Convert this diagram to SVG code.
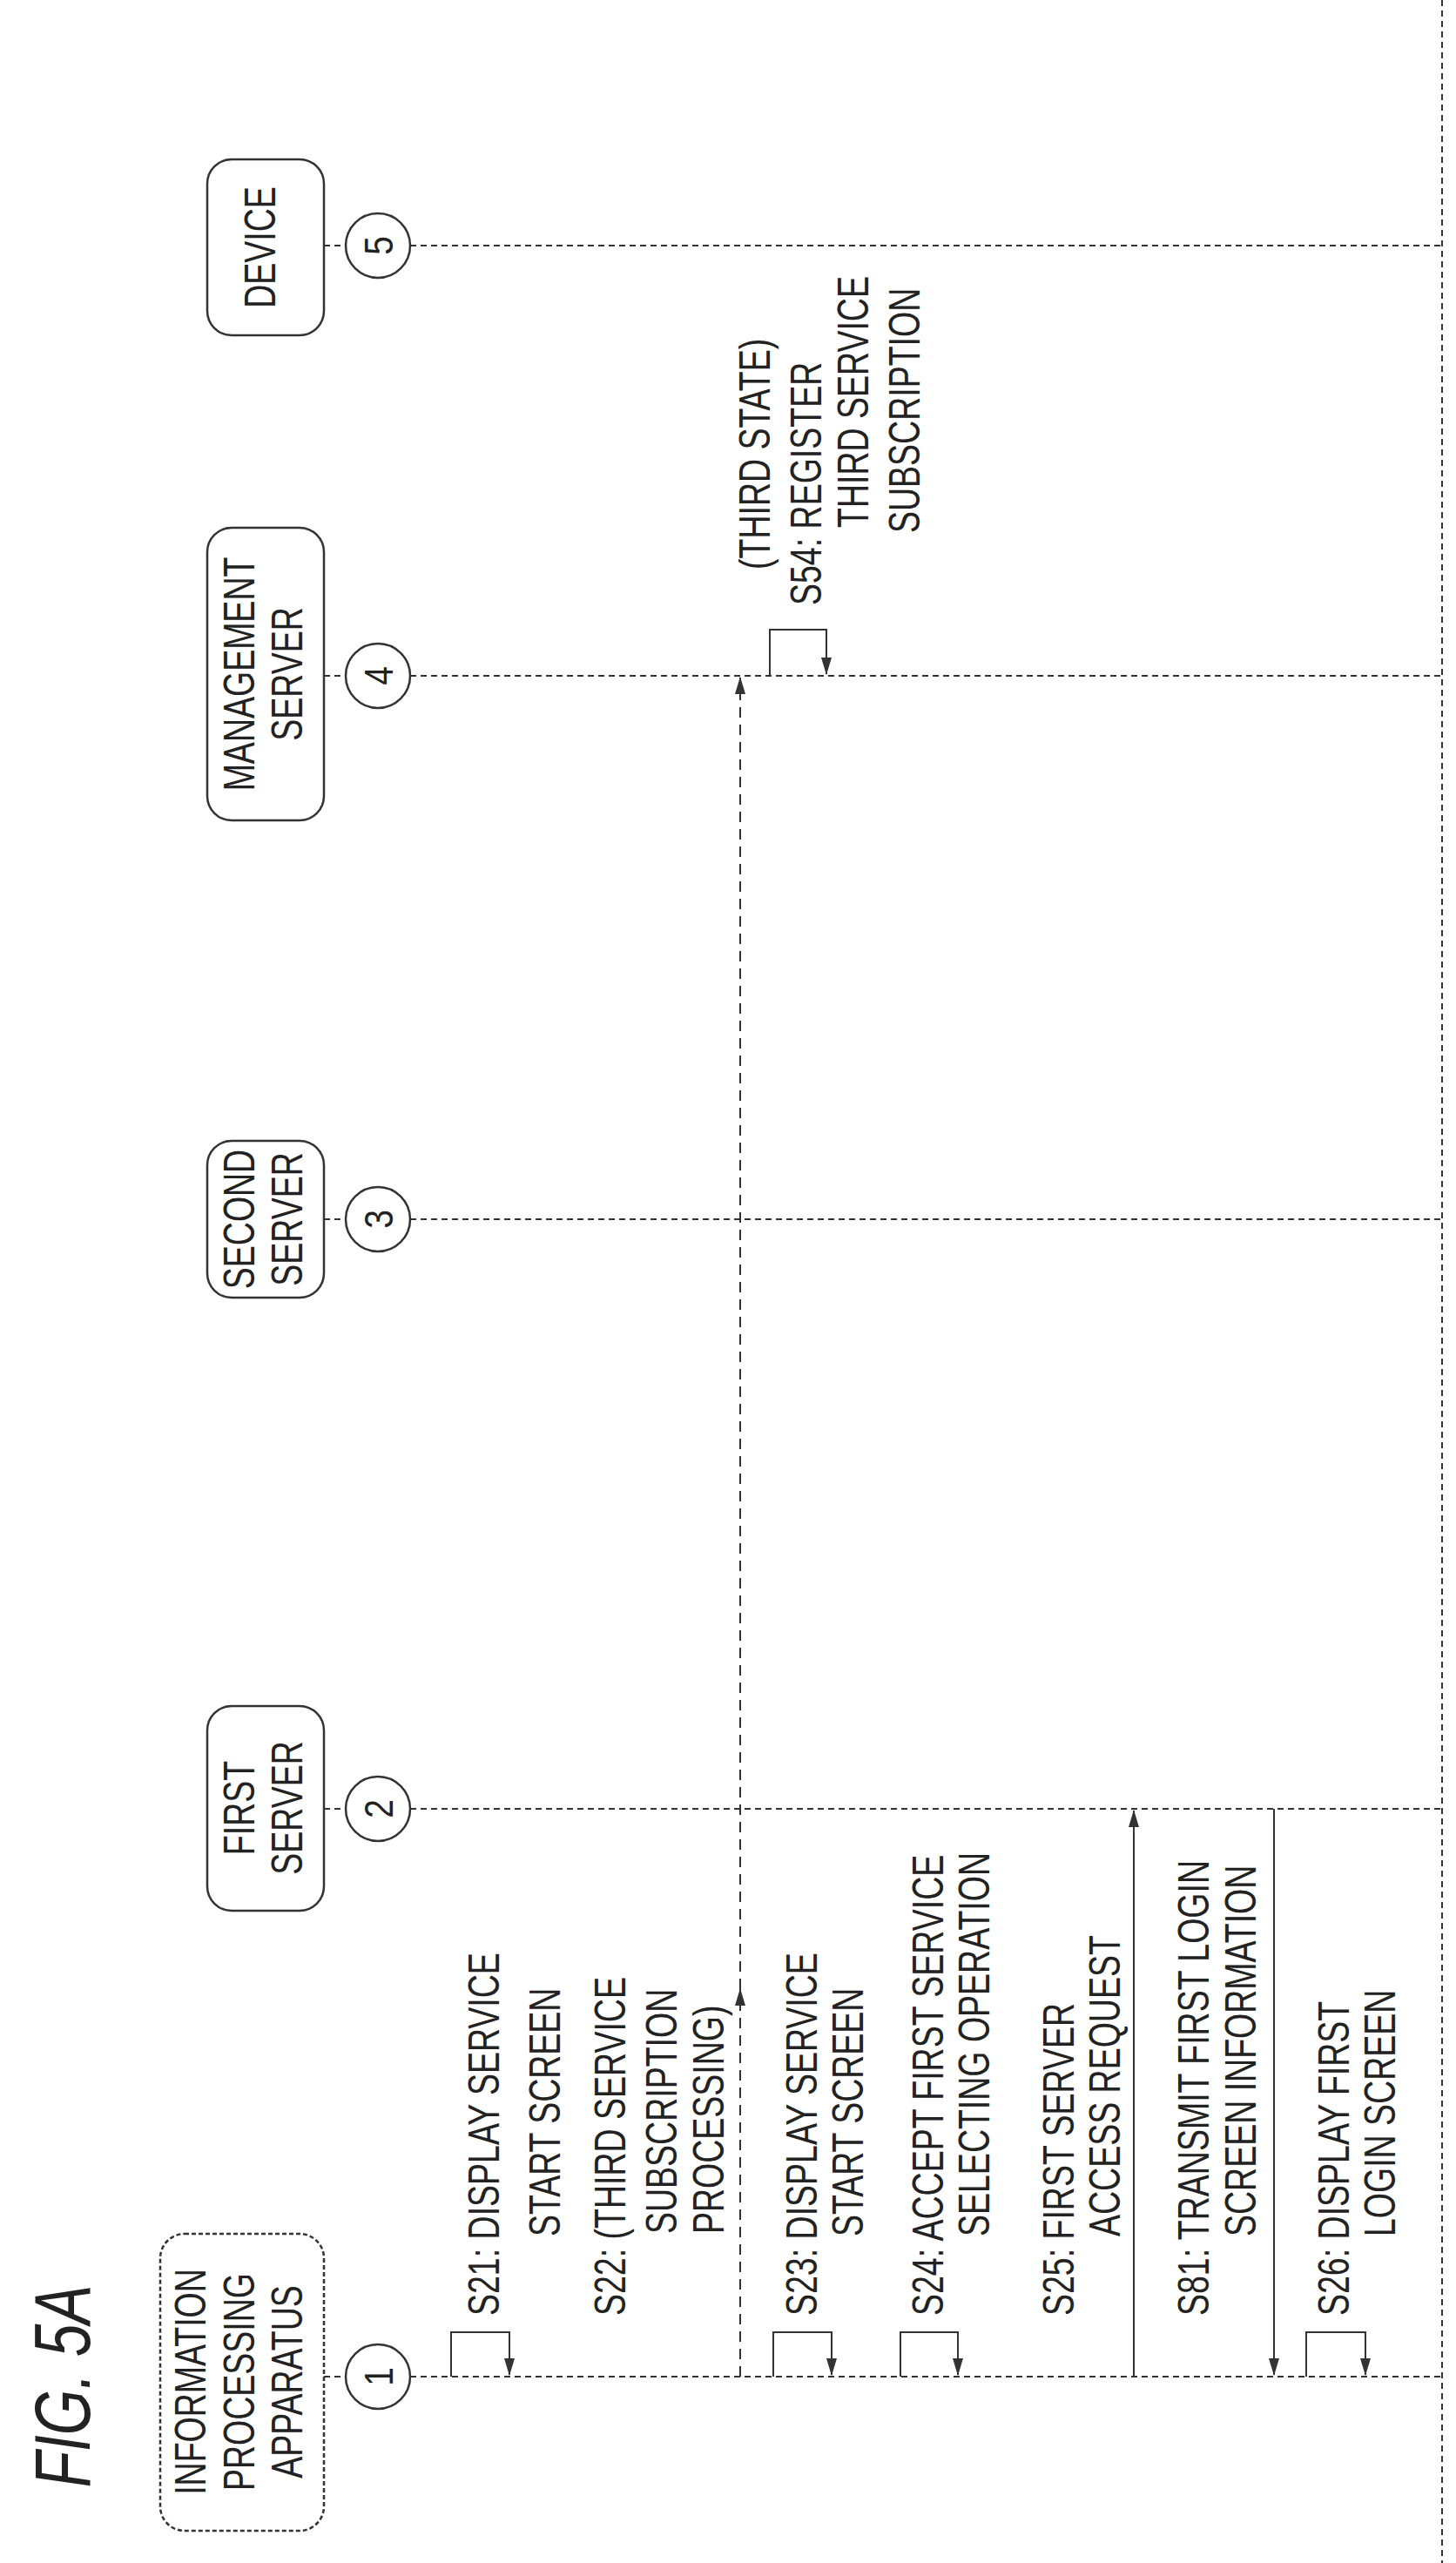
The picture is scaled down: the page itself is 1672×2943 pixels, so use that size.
<svg xmlns="http://www.w3.org/2000/svg" width="1672" height="2943" viewBox="0 0 1672 2943">
<style>
text{font-family:"Liberation Sans",Arial,sans-serif;font-size:50px;fill:#222}
.box{fill:none;stroke:#333;stroke-width:2.5}
.dbox{fill:none;stroke:#333;stroke-width:2.5;stroke-dasharray:5 3}
.life{fill:none;stroke:#333;stroke-width:2;stroke-dasharray:7 5}
.msg{fill:none;stroke:#333;stroke-width:2}
.dmsg{fill:none;stroke:#333;stroke-width:2;stroke-dasharray:12 8}
.num{font-size:46px}
.title{font-size:90px;font-style:italic}
</style>
<defs>
<marker id="ah" markerWidth="20" markerHeight="14" refX="19" refY="7" orient="auto" markerUnits="userSpaceOnUse" viewBox="0 0 20 14">
<path d="M0,1 L20,7 L0,13 Z" fill="#333"/>
</marker>
</defs>
<text class="title" transform="translate(103,2740) rotate(-90) scale(0.75,1)" text-anchor="middle">FIG. 5A</text>
<g id="connectors">
<line class="life" x1="1656" y1="0" x2="1656" y2="2943"/>
<line class="life" x1="372" y1="282" x2="397" y2="282"/><line class="life" x1="471" y1="282" x2="1656" y2="282"/>
<line class="life" x1="372" y1="776" x2="397" y2="776"/><line class="life" x1="471" y1="776" x2="1656" y2="776"/>
<line class="life" x1="372" y1="1400" x2="397" y2="1400"/><line class="life" x1="471" y1="1400" x2="1656" y2="1400"/>
<line class="life" x1="372" y1="2077" x2="397" y2="2077"/><line class="life" x1="471" y1="2077" x2="1656" y2="2077"/>
<line class="life" x1="372" y1="2729" x2="397" y2="2729"/><line class="life" x1="471" y1="2729" x2="1656" y2="2729"/>
<polyline class="msg" points="518,2729 518,2678 585,2678 585,2727" marker-end="url(#ah)"/>
<line class="dmsg" x1="850" y1="2729" x2="850" y2="2284" marker-end="url(#ah)"/>
<line class="dmsg" x1="850" y1="2284" x2="850" y2="778" marker-end="url(#ah)"/>
<polyline class="msg" points="888,2729 888,2678 955,2678 955,2727" marker-end="url(#ah)"/>
<polyline class="msg" points="1034,2729 1034,2678 1100,2678 1100,2727" marker-end="url(#ah)"/>
<line class="msg" x1="1302" y1="2729" x2="1302" y2="2079" marker-end="url(#ah)"/>
<line class="msg" x1="1463" y1="2077" x2="1463" y2="2727" marker-end="url(#ah)"/>
<polyline class="msg" points="1500,2729 1500,2678 1568,2678 1568,2727" marker-end="url(#ah)"/>
<polyline class="msg" points="884,776 884,723 949,723 949,774" marker-end="url(#ah)"/>
</g>
<g id="device">
<rect class="box" x="238" y="183" width="134" height="202" rx="28"/>
<text transform="translate(316,284) rotate(-90) scale(0.75,1)" text-anchor="middle">DEVICE</text>
<circle class="box" cx="434" cy="282" r="37"/>
<text class="num" transform="translate(451,282) rotate(-90) scale(0.85,1)" text-anchor="middle">5</text>
</g>
<g id="management-server">
<rect class="box" x="238" y="606" width="134" height="336" rx="28"/>
<text transform="translate(292,774) rotate(-90) scale(0.75,1)" text-anchor="middle">MANAGEMENT</text>
<text transform="translate(347,774) rotate(-90) scale(0.75,1)" text-anchor="middle">SERVER</text>
<circle class="box" cx="434" cy="776" r="37"/>
<text class="num" transform="translate(451,776) rotate(-90) scale(0.85,1)" text-anchor="middle">4</text>
</g>
<g id="second-server">
<rect class="box" x="238" y="1310" width="134" height="180" rx="28"/>
<text transform="translate(292,1400) rotate(-90) scale(0.75,1)" text-anchor="middle">SECOND</text>
<text transform="translate(347,1400) rotate(-90) scale(0.75,1)" text-anchor="middle">SERVER</text>
<circle class="box" cx="434" cy="1400" r="37"/>
<text class="num" transform="translate(451,1400) rotate(-90) scale(0.85,1)" text-anchor="middle">3</text>
</g>
<g id="first-server">
<rect class="box" x="238" y="1959" width="134" height="235" rx="28"/>
<text transform="translate(292,2076) rotate(-90) scale(0.75,1)" text-anchor="middle">FIRST</text>
<text transform="translate(347,2076) rotate(-90) scale(0.75,1)" text-anchor="middle">SERVER</text>
<circle class="box" cx="434" cy="2077" r="37"/>
<text class="num" transform="translate(451,2077) rotate(-90) scale(0.85,1)" text-anchor="middle">2</text>
</g>
<g id="information-processing-apparatus">
<rect class="dbox" x="184" y="2565" width="188" height="341" rx="28"/>
<text transform="translate(236,2735) rotate(-90) scale(0.75,1)" text-anchor="middle">INFORMATION</text>
<text transform="translate(292,2735) rotate(-90) scale(0.75,1)" text-anchor="middle">PROCESSING</text>
<text transform="translate(347,2735) rotate(-90) scale(0.75,1)" text-anchor="middle">APPARATUS</text>
<circle class="box" cx="434" cy="2729" r="37"/>
<text class="num" transform="translate(451,2729) rotate(-90) scale(0.85,1)" text-anchor="middle">1</text>
</g>
<g id="labels">
<text transform="translate(884,654) rotate(-90) scale(0.75,1)">(THIRD STATE)</text>
<text transform="translate(943,695) rotate(-90) scale(0.75,1)">S54: REGISTER</text>
<text transform="translate(997,606) rotate(-90) scale(0.75,1)">THIRD SERVICE</text>
<text transform="translate(1056,612) rotate(-90) scale(0.75,1)">SUBSCRIPTION</text>
<text transform="translate(573,2659) rotate(-90) scale(0.75,1)">S21: DISPLAY SERVICE</text>
<text transform="translate(643,2568) rotate(-90) scale(0.75,1)">START SCREEN</text>
<text transform="translate(718,2659) rotate(-90) scale(0.75,1)">S22: (THIRD SERVICE</text>
<text transform="translate(777,2565) rotate(-90) scale(0.75,1)">SUBSCRIPTION</text>
<text transform="translate(831,2565) rotate(-90) scale(0.75,1)">PROCESSING)</text>
<text transform="translate(938,2659) rotate(-90) scale(0.75,1)">S23: DISPLAY SERVICE</text>
<text transform="translate(991,2568) rotate(-90) scale(0.75,1)">START SCREEN</text>
<text transform="translate(1083,2659) rotate(-90) scale(0.75,1)">S24: ACCEPT FIRST SERVICE</text>
<text transform="translate(1136,2568) rotate(-90) scale(0.75,1)">SELECTING OPERATION</text>
<text transform="translate(1233,2659) rotate(-90) scale(0.75,1)">S25: FIRST SERVER</text>
<text transform="translate(1286,2568) rotate(-90) scale(0.75,1)">ACCESS REQUEST</text>
<text transform="translate(1388,2659) rotate(-90) scale(0.75,1)">S81: TRANSMIT FIRST LOGIN</text>
<text transform="translate(1442,2568) rotate(-90) scale(0.75,1)">SCREEN INFORMATION</text>
<text transform="translate(1549,2659) rotate(-90) scale(0.75,1)">S26: DISPLAY FIRST</text>
<text transform="translate(1602,2568) rotate(-90) scale(0.75,1)">LOGIN SCREEN</text>
</g>
</svg>
